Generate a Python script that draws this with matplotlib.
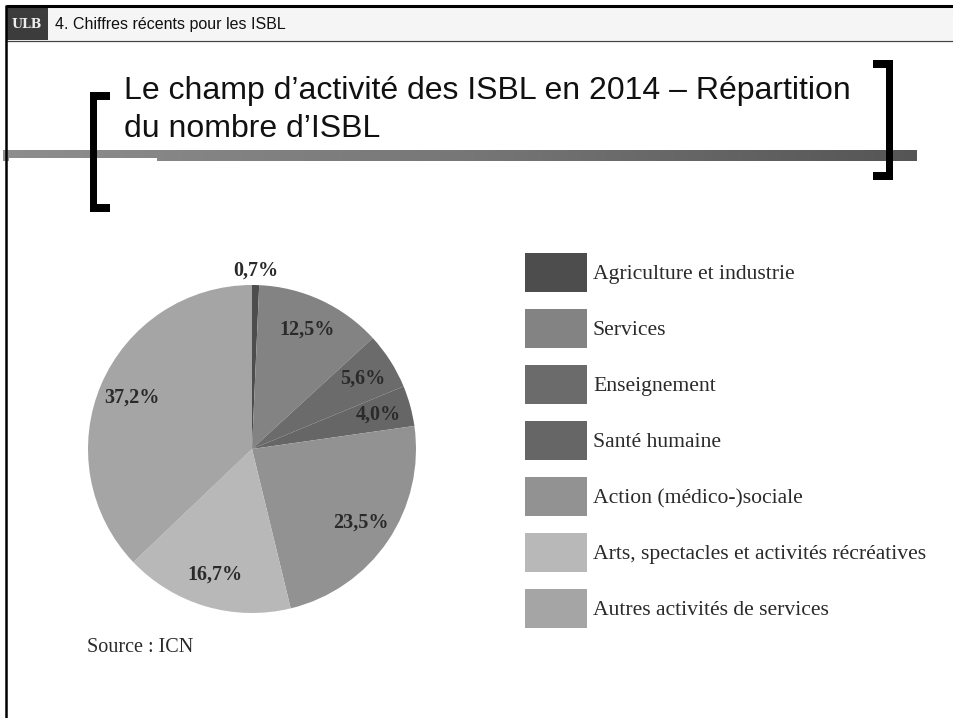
import numpy as np
import matplotlib
matplotlib.use("Agg")
import matplotlib.pyplot as plt
from matplotlib.patches import Rectangle, Patch
from matplotlib.colors import LinearSegmentedColormap

# ---- data ----
categories = ["Agriculture et industrie", "Services", "Enseignement", "Santé humaine",
              "Action (médico-)sociale", "Arts, spectacles et activités récréatives",
              "Autres activités de services"]
shares = [0.7, 12.5, 5.6, 4.0, 23.5, 16.7, 37.2]
colors = ["#4d4d4d", "#838383", "#6b6b6b", "#666666", "#929292", "#b8b8b8", "#a5a5a5"]
header_text = "4. Chiffres récents pour les ISBL"
title_lines = ["Le champ d\u2019activité des ISBL en 2014 \u2013 Répartition", "du nombre d\u2019ISBL"]
source_text = "Source : ICN"

W, H = 954, 718
fig = plt.figure(figsize=(W / 100, H / 100), dpi=100)
fig.patch.set_facecolor("white")

# ---- slide chrome (pixel coordinates) ----
bg = fig.add_axes([0, 0, 1, 1])
bg.axis("off")

# header
bg.add_patch(Rectangle((6, 7), W - 6, 33, facecolor="#f5f5f5", edgecolor="none"))
bg.add_patch(Rectangle((6, 7), 42, 33, facecolor="#3c3c3c", edgecolor="none"))
bg.plot([6, W], [6, 6], color="black", lw=2.2, solid_capstyle="butt")
bg.plot([6, W], [40.5, 40.5], color="#444444", lw=0.9)
bg.plot([6.5, 6.5], [5, H], color="black", lw=1.8, solid_capstyle="butt")
bg.text(27, 25, "ULB", color="#eeeeee", fontsize=9, fontweight="bold",
        family="DejaVu Serif", ha="center", va="center")
bg.text(55, 24, header_text, color="#111111", fontsize=11.5,
        family="Liberation Sans", ha="left", va="center")

# gradient bar
grad = np.linspace(0, 1, 256).reshape(1, -1)
cmap_bar = LinearSegmentedColormap.from_list("bar", ["#8e8e8e", "#777777", "#555555"])
bg.imshow(grad, cmap=cmap_bar, extent=(3, 917, 161, 150), aspect="auto", zorder=1)
bg.add_patch(Rectangle((9, 158), 148, 3.5, facecolor="white", edgecolor="none", zorder=2))
bg.set_xlim(0, W)
bg.set_ylim(H, 0)

# brackets
def bracket(x_bar, x_tip, y0, y1, thick=7, serif=8):
    xl = min(x_bar, x_tip)
    bg.add_patch(Rectangle((x_bar, y0), thick, y1 - y0, facecolor="black", edgecolor="none", zorder=3))
    bg.add_patch(Rectangle((xl, y0), abs(x_tip - x_bar) + thick, serif, facecolor="black", edgecolor="none", zorder=3))
    bg.add_patch(Rectangle((xl, y1 - serif), abs(x_tip - x_bar) + thick, serif, facecolor="black", edgecolor="none", zorder=3))

bracket(90, 103, 92, 212)
bracket(886, 873, 60, 180)

# title
bg.text(124, 99, title_lines[0], fontsize=23, family="Liberation Sans",
        color="#111111", ha="left", va="baseline", zorder=4)
bg.text(124, 137, title_lines[1], fontsize=23, family="Liberation Sans",
        color="#111111", ha="left", va="baseline", zorder=4)

# source
bg.text(87, 652, source_text, fontsize=14.5, family="Liberation Serif",
        color="#2a2a2a", ha="left", va="baseline")

# ---- pie ----
cx, cy, r = 252, 449, 164
pax = fig.add_axes([(cx - r) / W, (H - cy - r) / H, 2 * r / W, 2 * r / H])
wedges, _ = pax.pie(shares, colors=colors, startangle=90, counterclock=False,
                    radius=1, wedgeprops=dict(linewidth=0))
pax.set_xlim(-1, 1)
pax.set_ylim(-1, 1)
pax.set_aspect("equal")
pax.axis("off")

for w, v in zip(wedges, shares):
    ang = np.deg2rad((w.theta1 + w.theta2) / 2)
    d = 1.09 if v < 2 else 0.80
    pax.text(d * np.cos(ang), d * np.sin(ang), f"{v:.1f}%".replace(".", ","),
             ha="center", va="center", fontsize=14.5, fontweight="bold",
             family="Liberation Serif", color="#2a2a2a", clip_on=False)

# ---- legend ----
handles = [Patch(facecolor=c, edgecolor="none") for c in colors]
fs = 15.6
box_h_pt = 39 * 72 / 100
hh = (box_h_pt / fs - 0.245) / 0.65
leg = fig.legend(handles, categories, loc="upper left",
                 bbox_to_anchor=(525 / W, 1 - 253 / H), bbox_transform=fig.transFigure,
                 frameon=False, borderaxespad=0, borderpad=0,
                 handlelength=(62 * 0.72) / fs, handleheight=hh,
                 handletextpad=(6 * 0.72) / fs, labelspacing=(17 * 0.72) / fs,
                 prop=dict(family="Liberation Serif", size=fs))
for t in leg.get_texts():
    t.set_color("#2a2a2a")

fig.savefig("out.png", dpi=100)
